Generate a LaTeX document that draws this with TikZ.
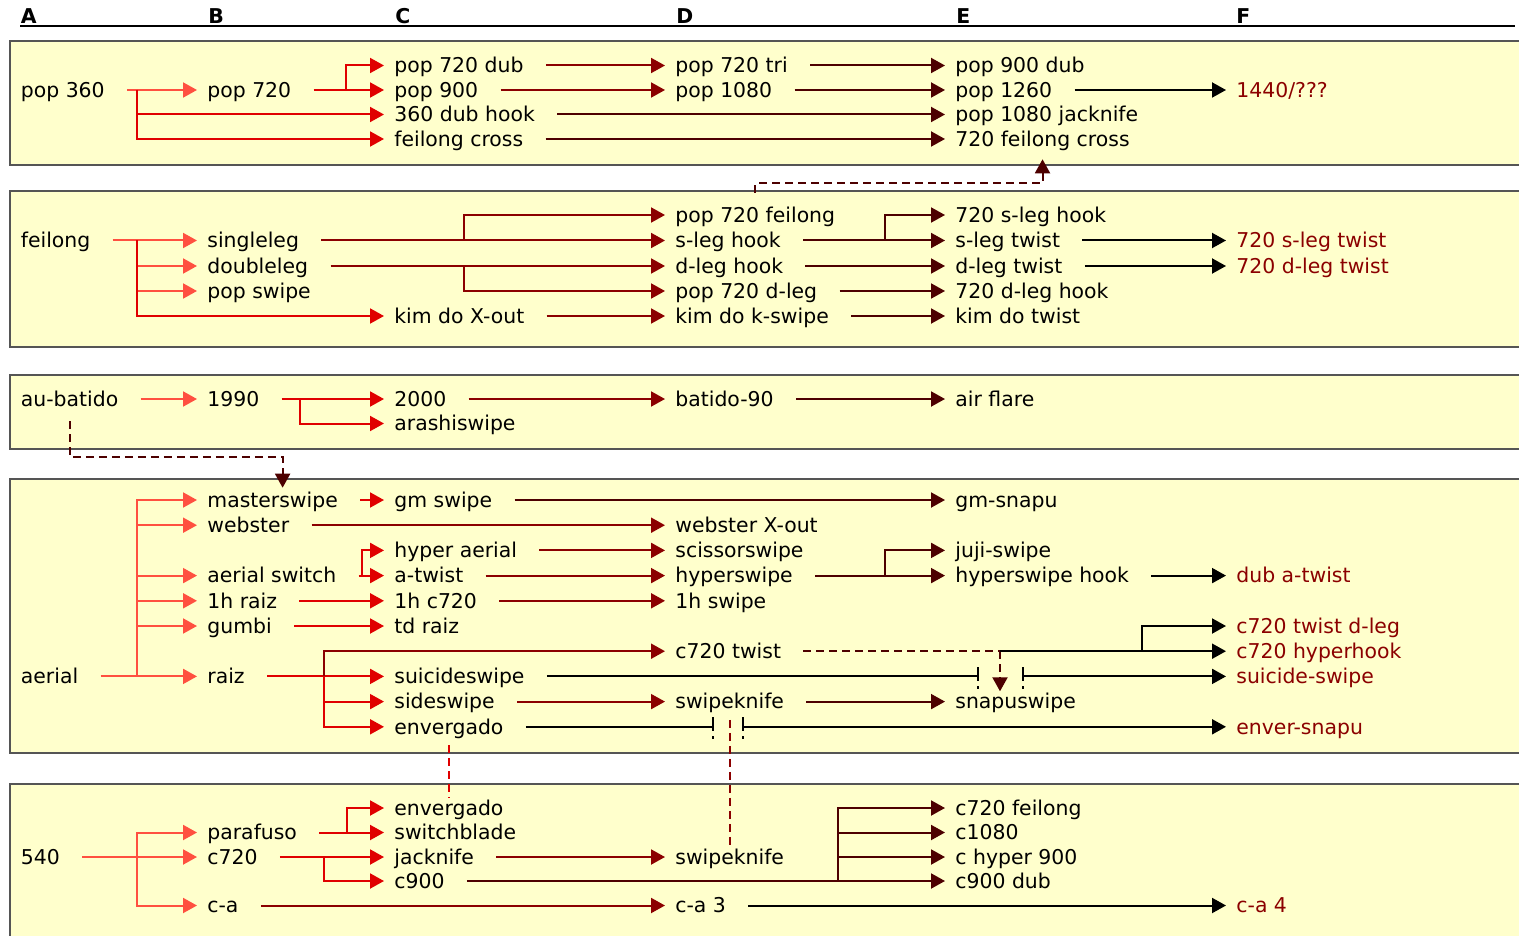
\documentclass[tikz,border=0pt]{standalone}
\usepackage{fontspec}
\setmainfont{DejaVu Sans}
\usetikzlibrary{arrows.meta}
\definecolor{panelfill}{HTML}{FFFFCC}
\definecolor{panelline}{HTML}{555555}
\definecolor{stepB}{HTML}{FF5040}
\definecolor{stepC}{HTML}{E00000}
\definecolor{stepD}{HTML}{8B0000}
\definecolor{stepE}{HTML}{4D0000}
\definecolor{leafred}{HTML}{8B0000}

\begin{document}
\begin{tikzpicture}[
  x=0.5pt,
  y=-0.5pt,
  font=\fontsize{10.2}{12}\selectfont,
  trick/.style={anchor=west,inner xsep=5pt,inner ysep=0pt,text height=8.6pt,text depth=1.3pt},
  newtrick/.style={trick,text=leafred},
  colhead/.style={anchor=base west,inner sep=0pt,font=\fontsize{10.2}{12}\selectfont\bfseries},
  panel/.style={fill=panelfill,draw=panelline,line width=1pt},
  link/.style={line width=1pt,-{Triangle[length=7pt,width=7.5pt]}},
  tail/.style={shorten <=6pt},
  toB/.style={link,draw=stepB},
  toC/.style={link,draw=stepC},
  toD/.style={link,draw=stepD},
  toE/.style={link,draw=stepE},
  toF/.style={link,draw=black},
  hint/.style={link,dash pattern=on 4pt off 2.5pt},
  hintC/.style={hint,draw=stepC,-},
  hintD/.style={hint,draw=stepD,-},
  hintE/.style={hint,draw=stepE},
  jumpbar/.style={draw=black,line width=0.8pt,dash pattern=on 7pt off 2.5pt on 1.5pt off 4pt}
]
  \useasboundingbox (0,0) rectangle (1519,936);
  \clip (0,0) rectangle (1519,936);

  % Column headings.
  \foreach \c/\x in {A/20.5,B/208,C/395,D/676,E/956,F/1236} {
    \node[colhead] (head\c) at (\x,23.5) {\c};
  }
  \draw[line width=1pt] (20,26) -- (1515,26);

  % Family panels.
  \path[panel] (10,41.5) rectangle (1540,165.5);
  \path[panel] (10,191.5) rectangle (1540,346.5);
  \path[panel] (10,375) rectangle (1540,449);
  \path[panel] (10,478.5) rectangle (1540,752.5);
  \path[panel] (10,783.5) rectangle (1540,950);

  % Junction columns, dashed levels and line jumps.
  \coordinate (jA) at (137,0);
  \coordinate (j720) at (345.5,0);
  \coordinate (jleg) at (464,0);
  \coordinate (jhook) at (885,0);
  \coordinate (j1990) at (300,0);
  \coordinate (jswitch) at (362,0);
  \coordinate (jraiz) at (324,0);
  \coordinate (jhyper) at (885,0);
  \coordinate (jtwist) at (1000,0);
  \coordinate (jtwistF) at (1142,0);
  \coordinate (jpara) at (347,0);
  \coordinate (jc720) at (324,0);
  \coordinate (jc900) at (838,0);
  \coordinate (lvlfc) at (0,183.5);
  \coordinate (lvlau) at (0,457);
  \coordinate (jmpAL) at (978,676.4);
  \coordinate (jmpAR) at (1023,676.4);
  \coordinate (jmpBL) at (713,726.8);
  \coordinate (jmpBR) at (743,726.8);

  % Pop family.
  \node[trick] (pop360) at (10.5,90) {pop 360};
  \node[trick] (pop720) at (197,90) {pop 720};
  \node[trick] (p720dub) at (384,65.5) {pop 720 dub};
  \node[trick] (pop900) at (384,90) {pop 900};
  \node[trick] (dubhook360) at (384,114.5) {360 dub hook};
  \node[trick] (fcross) at (384,139) {feilong cross};
  \node[trick] (p720tri) at (665,65.5) {pop 720 tri};
  \node[trick] (pop1080) at (665,90) {pop 1080};
  \node[trick] (p900dub) at (945,65.5) {pop 900 dub};
  \node[trick] (pop1260) at (945,90) {pop 1260};
  \node[trick] (p1080jack) at (945,114.5) {pop 1080 jacknife};
  \node[trick] (fcross720) at (945,139) {720 feilong cross};
  \node[newtrick] (p1440) at (1226,90) {1440/???};

  \draw[toB,tail] (pop360.east) -- (pop720.west);
  \draw[toC] (pop360.east -| jA) |- (dubhook360.west);
  \draw[toC] (pop360.east -| jA) |- (fcross.west);
  \draw[toC,tail] (pop720.east) -- (pop900.west);
  \draw[toC] (pop720.east -| j720) |- (p720dub.west);
  \draw[toD,tail] (p720dub.east) -- (p720tri.west);
  \draw[toD,tail] (pop900.east) -- (pop1080.west);
  \draw[toE,tail] (dubhook360.east) -- (p1080jack.west);
  \draw[toE,tail] (fcross.east) -- (fcross720.west);
  \draw[toE,tail] (p720tri.east) -- (p900dub.west);
  \draw[toE,tail] (pop1080.east) -- (pop1260.west);
  \draw[toF,tail] (pop1260.east) -- (p1440.west);

  % Feilong family.
  \node[trick] (feilong) at (10.5,240.5) {feilong};
  \node[trick] (singleleg) at (197,240.5) {singleleg};
  \node[trick] (doubleleg) at (197,266) {doubleleg};
  \node[trick] (popswipe) at (197,291) {pop swipe};
  \node[trick] (kimxout) at (384,316) {kim do X-out};
  \node[trick] (p720feil) at (665,215) {pop 720 feilong};
  \node[trick] (sleghook) at (665,240.5) {s-leg hook};
  \node[trick] (dleghook) at (665,266) {d-leg hook};
  \node[trick] (p720dleg) at (665,291) {pop 720 d-leg};
  \node[trick] (kimkswipe) at (665,316) {kim do k-swipe};
  \node[trick] (sleghook720) at (945,215) {720 s-leg hook};
  \node[trick] (slegtwist) at (945,240.5) {s-leg twist};
  \node[trick] (dlegtwist) at (945,266) {d-leg twist};
  \node[trick] (dleghook720) at (945,291) {720 d-leg hook};
  \node[trick] (kimtwist) at (945,316) {kim do twist};
  \node[newtrick] (slegtwist720) at (1226,240.5) {720 s-leg twist};
  \node[newtrick] (dlegtwist720) at (1226,266) {720 d-leg twist};

  \draw[toB,tail] (feilong.east) -- (singleleg.west);
  \foreach \n in {doubleleg,popswipe} {
    \draw[toB] (feilong.east -| jA) |- (\n.west);
  }
  \draw[toC] (feilong.east -| jA) |- (kimxout.west);
  \draw[toD,tail] (singleleg.east) -- (sleghook.west);
  \draw[toD] (singleleg.east -| jleg) |- (p720feil.west);
  \draw[toD,tail] (doubleleg.east) -- (dleghook.west);
  \draw[toD] (doubleleg.east -| jleg) |- (p720dleg.west);
  \draw[toD,tail] (kimxout.east) -- (kimkswipe.west);
  \draw[toE,tail] (sleghook.east) -- (slegtwist.west);
  \draw[toE] (sleghook.east -| jhook) |- (sleghook720.west);
  \draw[toE,tail] (dleghook.east) -- (dlegtwist.west);
  \draw[toE,tail] (p720dleg.east) -- (dleghook720.west);
  \draw[toE,tail] (kimkswipe.east) -- (kimtwist.west);
  \draw[toF,tail] (slegtwist.east) -- (slegtwist720.west);
  \draw[toF,tail] (dlegtwist.east) -- (dlegtwist720.west);

  % Cross-family link up to the pop panel.
  \draw[hintE,tail,shorten >=5pt] (p720feil.north) -- (p720feil.north |- lvlfc) -| (fcross720.south);

  % Au-batido family.
  \node[trick] (aubatido) at (10.5,399) {au-batido};
  \node[trick] (y1990) at (197,399) {1990};
  \node[trick] (y2000) at (384,399) {2000};
  \node[trick] (arashi) at (384,423.5) {arashiswipe};
  \node[trick] (batido90) at (665,399) {batido-90};
  \node[trick] (airflare) at (945,399) {air flare};

  \draw[toB,tail] (aubatido.east) -- (y1990.west);
  \draw[toC,tail] (y1990.east) -- (y2000.west);
  \draw[toC] (y1990.east -| j1990) |- (arashi.west);
  \draw[toD,tail] (y2000.east) -- (batido90.west);
  \draw[toE,tail] (batido90.east) -- (airflare.west);

  % Aerial family.
  \node[trick] (aerial) at (10.5,676.4) {aerial};
  \node[trick] (mswipe) at (197,500) {masterswipe};
  \node[trick] (webster) at (197,525.2) {webster};
  \node[trick] (aswitch) at (197,575.6) {aerial switch};
  \node[trick] (raiz1h) at (197,600.8) {1h raiz};
  \node[trick] (gumbi) at (197,626) {gumbi};
  \node[trick] (raiz) at (197,676.4) {raiz};
  \node[trick] (gmswipe) at (384,500) {gm swipe};
  \node[trick] (hyperaerial) at (384,550.4) {hyper aerial};
  \node[trick] (atwist) at (384,575.6) {a-twist};
  \node[trick] (c720h) at (384,600.8) {1h c720};
  \node[trick] (tdraiz) at (384,626) {td raiz};
  \node[trick] (suicide) at (384,676.4) {suicideswipe};
  \node[trick] (sideswipe) at (384,701.6) {sideswipe};
  \node[trick] (enverA) at (384,726.8) {envergado};
  \node[trick] (websterx) at (665,525.2) {webster X-out};
  \node[trick] (scissor) at (665,550.4) {scissorswipe};
  \node[trick] (hyperswipe) at (665,575.6) {hyperswipe};
  \node[trick] (swipe1h) at (665,600.8) {1h swipe};
  \node[trick] (c720twist) at (665,651.2) {c720 twist};
  \node[trick] (swipeknifeA) at (665,701.6) {swipeknife};
  \node[trick] (gmsnapu) at (945,500) {gm-snapu};
  \node[trick] (juji) at (945,550.4) {juji-swipe};
  \node[trick] (hyperhook) at (945,575.6) {hyperswipe hook};
  \node[trick] (snapuswipe) at (945,701.6) {snapuswipe};
  \node[newtrick] (dubatwist) at (1226,575.6) {dub a-twist};
  \node[newtrick] (twistdleg) at (1226,626) {c720 twist d-leg};
  \node[newtrick] (hyperhookc) at (1226,651.2) {c720 hyperhook};
  \node[newtrick] (suicideF) at (1226,676.4) {suicide-swipe};
  \node[newtrick] (enversnapu) at (1226,726.8) {enver-snapu};

  \draw[hintE,tail,shorten >=1pt] (aubatido.south) -- (aubatido.south |- lvlau) -| ([xshift=5pt]mswipe.north);

  \draw[toB,tail] (aerial.east) -- (raiz.west);
  \foreach \n in {mswipe,webster,aswitch,raiz1h,gumbi} {
    \draw[toB] (aerial.east -| jA) |- (\n.west);
  }
  \draw[toC,tail] (mswipe.east) -- (gmswipe.west);
  \draw[toC,tail] (aswitch.east) -- (atwist.west);
  \draw[toC] (aswitch.east -| jswitch) |- (hyperaerial.west);
  \draw[toC,tail] (raiz1h.east) -- (c720h.west);
  \draw[toC,tail] (gumbi.east) -- (tdraiz.west);
  \draw[toC,tail] (raiz.east) -- (suicide.west);
  \draw[toD] (raiz.east -| jraiz) |- (c720twist.west);
  \draw[toC] (raiz.east -| jraiz) |- (sideswipe.west);
  \draw[toC] (raiz.east -| jraiz) |- (enverA.west);
  \draw[toD,tail] (webster.east) -- (websterx.west);
  \draw[toD,tail] (hyperaerial.east) -- (scissor.west);
  \draw[toD,tail] (atwist.east) -- (hyperswipe.west);
  \draw[toD,tail] (c720h.east) -- (swipe1h.west);
  \draw[toD,tail] (sideswipe.east) -- (swipeknifeA.west);
  \draw[toE,tail] (gmswipe.east) -- (gmsnapu.west);
  \draw[toE,tail] (hyperswipe.east) -- (hyperhook.west);
  \draw[toE] (hyperswipe.east -| jhyper) |- (juji.west);
  \draw[toE,tail] (swipeknifeA.east) -- (snapuswipe.west);
  \draw[toF,tail] (hyperhook.east) -- (dubatwist.west);

  % c720 twist: dashed hint into snapuswipe, solid on to the new tricks.
  \draw[hintE,tail,-] (c720twist.east) -- (c720twist.east -| jtwist);
  \draw[hintE] (c720twist.east -| jtwist) -- (snapuswipe.north -| jtwist);
  \draw[toF] (c720twist.east -| jtwist) -- (hyperhookc.west);
  \draw[toF] (c720twist.east -| jtwistF) |- (twistdleg.west);

  % Lines that jump over a crossing hint.
  \draw[toF,tail,-] (suicide.east) -- (jmpAL);
  \draw[toF] (jmpAR) -- (suicideF.west);
  \draw[toF,tail,-] (enverA.east) -- (jmpBL);
  \draw[toF] (jmpBR) -- (enversnapu.west);
  \foreach \j in {jmpAL,jmpAR,jmpBL,jmpBR} {
    \draw[jumpbar] ([yshift=4.7pt]\j) -- ([yshift=-6.8pt]\j);
  }

  % 540 family.
  \node[trick] (n540) at (10.5,857) {540};
  \node[trick] (parafuso) at (197,832.5) {parafuso};
  \node[trick] (c720) at (197,857) {c720};
  \node[trick] (ca) at (197,905.5) {c-a};
  \node[trick] (enverB) at (384,808) {envergado};
  \node[trick] (switchblade) at (384,832.5) {switchblade};
  \node[trick] (jacknife) at (384,857) {jacknife};
  \node[trick] (c900) at (384,881) {c900};
  \node[trick] (swipeknifeB) at (665,857) {swipeknife};
  \node[trick] (ca3) at (665,905.5) {c-a 3};
  \node[trick] (c720feil) at (945,808) {c720 feilong};
  \node[trick] (c1080) at (945,832.5) {c1080};
  \node[trick] (chyper) at (945,857) {c hyper 900};
  \node[trick] (c900dub) at (945,881) {c900 dub};
  \node[newtrick] (ca4) at (1226,905.5) {c-a 4};

  \draw[toB,tail] (n540.east) -- (c720.west);
  \draw[toB] (n540.east -| jA) |- (parafuso.west);
  \draw[toB] (n540.east -| jA) |- (ca.west);
  \draw[toC,tail] (parafuso.east) -- (switchblade.west);
  \draw[toC] (parafuso.east -| jpara) |- (enverB.west);
  \draw[toC,tail] (c720.east) -- (jacknife.west);
  \draw[toC] (c720.east -| jc720) |- (c900.west);
  \draw[toD,tail] (jacknife.east) -- (swipeknifeB.west);
  \draw[toD,tail] (ca.east) -- (ca3.west);
  \draw[toE,tail] (c900.east) -- (c900dub.west);
  \foreach \n in {c720feil,c1080,chyper} {
    \draw[toE] (c900.east -| jc900) |- (\n.west);
  }
  \draw[toF,tail] (ca3.east) -- (ca4.west);

  % Same trick in two panels.
  \draw[hintC,shorten <=4pt] (enverA.south) -- (enverB.north);
  \draw[hintD,shorten <=4pt] (swipeknifeA.south) -- (swipeknifeB.north);
\end{tikzpicture}
\end{document}
